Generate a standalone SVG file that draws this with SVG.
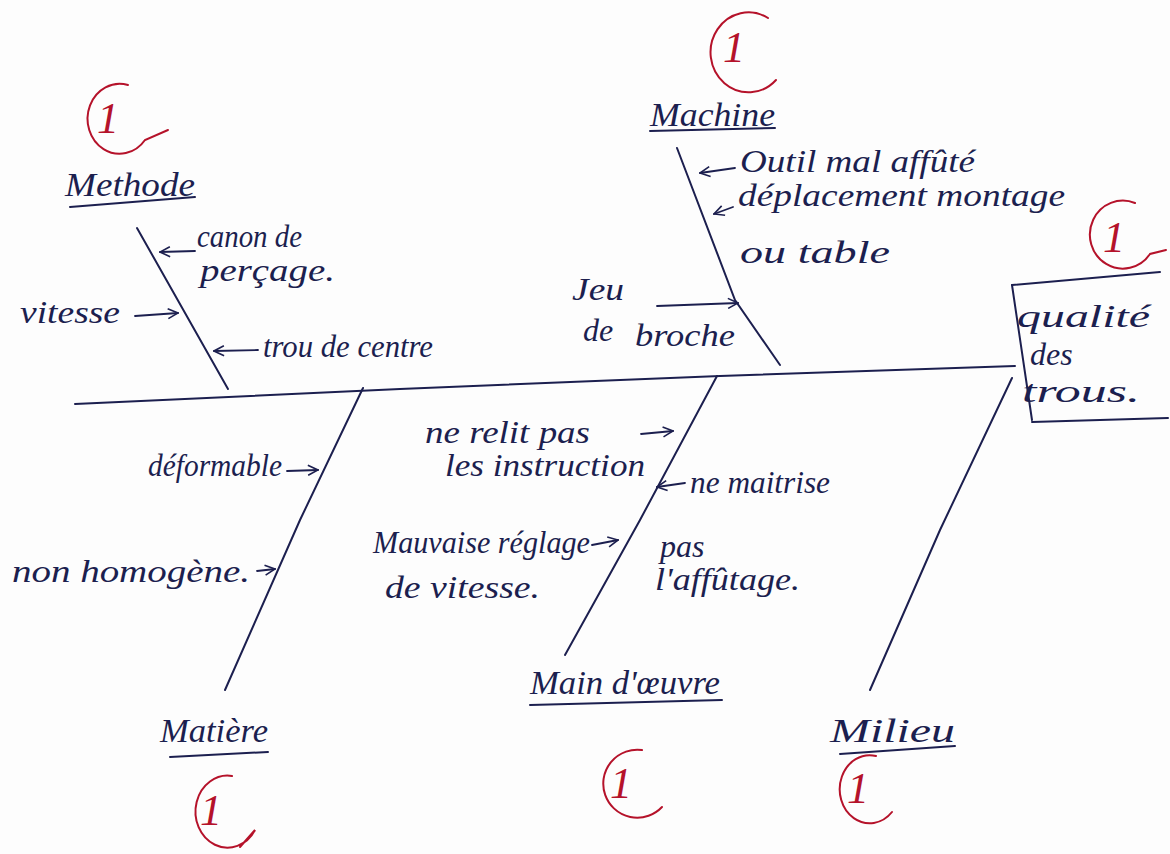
<svg xmlns="http://www.w3.org/2000/svg" width="1170" height="854" viewBox="0 0 1170 854">
  <defs>
    <marker id="arr" viewBox="0 0 12 12" refX="11" refY="6" markerWidth="12" markerHeight="12" markerUnits="userSpaceOnUse" orient="auto">
      <path d="M1,1 L11,6 L1,11" fill="none" stroke="#1c1f4f" stroke-width="1.6"/>
    </marker>
    <style>
      .ink { fill: none; stroke: #1c1f4f; stroke-width: 2; stroke-linecap: round; }
      .arw { fill: none; stroke: #1c1f4f; stroke-width: 1.8; stroke-linecap: round; marker-end: url(#arr); }
      .t { font-family: "Liberation Serif", serif; font-style: italic; fill: #1c1f4f; font-size: 32px; }
      .lbl { font-family: "Liberation Serif", serif; font-style: italic; fill: #1c1f4f; font-size: 33px; }
      .mark { fill: none; stroke: #b5122a; stroke-width: 2; stroke-linecap: round; }
      .mt { font-family: "Liberation Serif", serif; font-style: italic; fill: #b5122a; font-size: 44px; }
    </style>
  </defs>
  <rect width="1170" height="854" fill="#fdfdfd"/>

  <!-- spine and bones -->
  <g id="connectors">
    <path class="ink" d="M75,404 L400,389 L720,376 L1015,366"/>
    <path class="ink" d="M137,228 L228,389"/>
    <path class="ink" d="M677,148 L735,300 L780,365"/>
    <path class="ink" d="M363,388 L300,520 L225,690"/>
    <path class="ink" d="M717,376 L640,520 L565,655"/>
    <path class="ink" d="M1012,378 L940,530 L870,690"/>
    <!-- cause arrows -->
    <path class="arw" d="M195,251 L160,252"/>
    <path class="arw" d="M135,316 L178,313"/>
    <path class="arw" d="M258,350 L214,351"/>
    <path class="arw" d="M735,168 L700,173"/>
    <path class="arw" d="M733,207 L714,214"/>
    <path class="arw" d="M657,306 L738,303"/>
    <path class="arw" d="M287,471 L318,470"/>
    <path class="arw" d="M257,571 L275,569"/>
    <path class="arw" d="M641,434 L673,431"/>
    <path class="arw" d="M685,483 L657,487"/>
    <path class="arw" d="M592,545 L618,540"/>
  </g>

  <g id="head">
    <path class="ink" d="M1012,285 L1160,272"/>
    <path class="ink" d="M1012,285 L1032,420"/>
    <path class="ink" d="M1032,422 L1168,418"/>
    <text class="t" x="1017" y="327" font-size="35" textLength="133" lengthAdjust="spacingAndGlyphs">qualité</text>
    <text class="t" x="1030" y="365" font-size="34">des</text>
    <text class="t" x="1022" y="402" font-size="36" textLength="118" lengthAdjust="spacingAndGlyphs">trous.</text>
    <path class="mark" d="M1135,203 A33 34 0 1 0 1150,254 L1166,250"/>
    <text class="mt" x="1103" y="252">1</text>
  </g>

  <g id="methode">
    <text class="lbl" x="65" y="196" font-size="31" textLength="130" lengthAdjust="spacingAndGlyphs">Methode</text>
    <path class="ink" d="M70,207 L195,197"/>
    <path class="mark" d="M128,85 A32 35 0 1 0 145,140 L168,130"/>
    <text class="mt" x="97" y="133">1</text>
    <text class="t" x="197" y="247" font-size="29" textLength="105" lengthAdjust="spacingAndGlyphs">canon de</text>
    <text class="t" x="200" y="281" font-size="31" textLength="135" lengthAdjust="spacingAndGlyphs">perçage.</text>
    <text class="t" x="20" y="323" font-size="31" textLength="100" lengthAdjust="spacingAndGlyphs">vitesse</text>
    <text class="t" x="263" y="357" font-size="29" textLength="170" lengthAdjust="spacingAndGlyphs">trou de centre</text>
  </g>

  <g id="machine">
    <text class="lbl" x="650" y="126" font-size="31" textLength="125" lengthAdjust="spacingAndGlyphs">Machine</text>
    <path class="ink" d="M650,131 L775,128"/>
    <path class="mark" d="M768,18 A38 40 0 1 0 776,80"/>
    <text class="mt" x="723" y="62">1</text>
    <text class="t" x="740" y="172" font-size="31" textLength="235" lengthAdjust="spacingAndGlyphs">Outil mal affûté</text>
    <text class="t" x="738" y="206" font-size="32" textLength="327" lengthAdjust="spacingAndGlyphs">déplacement montage</text>
    <text class="t" x="740" y="263" font-size="35" textLength="150" lengthAdjust="spacingAndGlyphs">ou table</text>
    <text class="t" x="572" y="300" font-size="31" textLength="52" lengthAdjust="spacingAndGlyphs">Jeu</text>
    <text class="t" x="583" y="341" font-size="29">de</text>
    <text class="t" x="635" y="346" font-size="32" textLength="100" lengthAdjust="spacingAndGlyphs">broche</text>
  </g>

  <g id="matiere">
    <text class="lbl" x="160" y="742" font-size="30" textLength="108" lengthAdjust="spacingAndGlyphs">Matière</text>
    <path class="ink" d="M170,757 L268,752"/>
    <path class="mark" d="M232,776 A32 36 0 1 0 255,830 L240,847"/>
    <text class="mt" x="200" y="825">1</text>
  </g>

  <g id="matiere-causes">
    <text class="t" x="148" y="476" font-size="29" textLength="134" lengthAdjust="spacingAndGlyphs">déformable</text>
    <text class="t" x="12" y="582" font-size="33" textLength="238" lengthAdjust="spacingAndGlyphs">non homogène.</text>
  </g>

  <g id="main-oeuvre">
    <text class="lbl" x="530" y="694" font-size="32" textLength="190" lengthAdjust="spacingAndGlyphs">Main d'œuvre</text>
    <path class="ink" d="M530,705 L722,700"/>
    <path class="mark" d="M642,750 A34 34 0 1 0 662,807"/>
    <text class="mt" x="610" y="798">1</text>
    <text class="t" x="425" y="443" font-size="32" textLength="165" lengthAdjust="spacingAndGlyphs">ne relit pas</text>
    <text class="t" x="445" y="476" font-size="32" textLength="200" lengthAdjust="spacingAndGlyphs">les instruction</text>
    <text class="t" x="690" y="493" font-size="30" textLength="140" lengthAdjust="spacingAndGlyphs">ne maitrise</text>
    <text class="t" x="373" y="553" font-size="29" textLength="217" lengthAdjust="spacingAndGlyphs">Mauvaise réglage</text>
    <text class="t" x="385" y="598" font-size="32" textLength="155" lengthAdjust="spacingAndGlyphs">de vitesse.</text>
    <text class="t" x="660" y="557" font-size="31">pas</text>
    <text class="t" x="655" y="590" font-size="32" textLength="145" lengthAdjust="spacingAndGlyphs">l'affûtage.</text>
  </g>

  <g id="milieu">
    <text class="lbl" x="830" y="742" font-size="36" textLength="125" lengthAdjust="spacingAndGlyphs">Milieu</text>
    <path class="ink" d="M840,754 L955,746"/>
    <path class="mark" d="M876,756 A30 34 0 1 0 892,812"/>
    <text class="mt" x="847" y="803">1</text>
  </g>
</svg>
